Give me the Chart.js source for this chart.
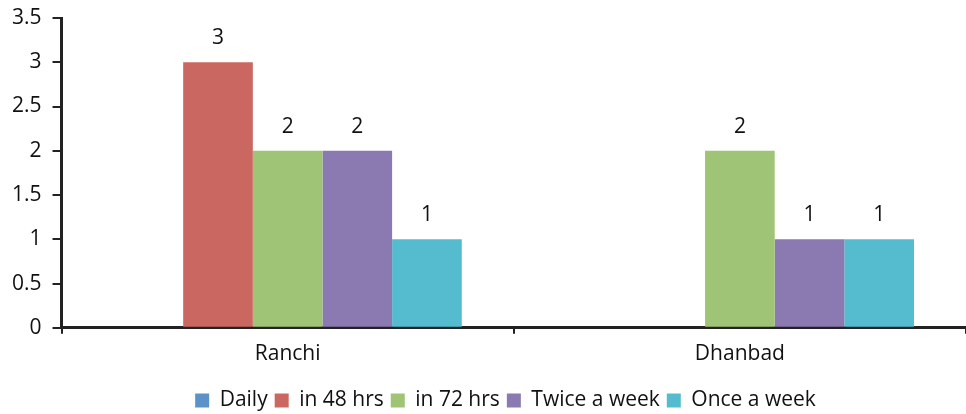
<!DOCTYPE html>
<html>
<head>
<meta charset="utf-8">
<script src="https://cdn.jsdelivr.net/npm/chart.js@4/dist/chart.umd.min.js"></script>
<style>
    html, body { margin: 0; padding: 0; background: #fff; }
    #wrap { width: 966px; height: 414px; }
</style>
</head>
<body>
<div id="wrap"><canvas id="freqChart"></canvas></div>
<script>
const cities = ["Ranchi", "Dhanbad"];
const seriesNames = ["Daily", "in 48 hrs", "in 72 hrs", "Twice a week", "Once a week"];
const daily = [0, 0];
const in48 = [3, 0];
const in72 = [2, 2];
const twiceWeek = [2, 1];
const onceWeek = [1, 1];
const yTicks = [0, 0.5, 1, 1.5, 2, 2.5, 3, 3.5];

const colors = ["#5B93C9", "#CB6761", "#9FC475", "#8B79B1", "#55BCD0"];
const ctx = document.getElementById("freqChart");
const fontFam = "'Open Sans'";

// draw the value above each bar, skip zeros
const valueLabels = {
    id: "valueLabels",
    afterLayout(chart) {
        // legend sits a bit right of centre in the original
        chart.legend.left += 44;
    },
    afterDatasetsDraw(chart) {
        const c = chart.ctx;
        c.save();
        c.font = "21px " + fontFam;
        c.fillStyle = "#111";
        c.textAlign = "center";
        c.textBaseline = "middle";
        chart.data.datasets.forEach((ds, i) => {
            chart.getDatasetMeta(i).data.forEach((bar, j) => {
                if (ds.data[j] === 0) return;
                c.fillText(ds.data[j], bar.x, bar.y - 24);
            });
        });
        c.restore();
    },
};

const allSeries = [daily, in48, in72, twiceWeek, onceWeek];

new Chart(ctx, {
    type: "bar",
    data: {
        labels: cities,
        datasets: allSeries.map((vals, i) => {
            return {
                label: seriesNames[i],
                data: vals,
                backgroundColor: colors[i],
                borderWidth: 0,
                barPercentage: 1,
                categoryPercentage: 0.77,
            };
        }),
    },
    options: {
        responsive: true,
        maintainAspectRatio: false,
        animation: false,
        layout: { padding: { left: 1, right: 0, top: 0, bottom: -7 } },
        plugins: {
            tooltip: { enabled: false },
            legend: {
                position: "bottom",
                labels: {
                    boxWidth: 14,
                    boxHeight: 14,
                    padding: 7,
                    color: "#111",
                    font: { family: fontFam, size: 21 },
                },
            },
        },
        scales: {
            x: {
                afterFit(axis) {
                    axis.height += 8;
                },
                grid: {
                    display: true,
                    drawOnChartArea: false,
                    tickLength: 6,
                    color: "#222",
                    lineWidth: 2,
                },
                border: { color: "#222", width: 3 },
                ticks: {
                    color: "#111",
                    padding: 8,
                    font: { family: fontFam, size: 21 },
                },
            },
            y: {
                min: 0,
                max: 3.5,
                afterBuildTicks(axis) {
                    axis.ticks = yTicks.map((v) => ({ value: v }));
                },
                afterFit(axis) {
                    axis.paddingTop = 18;
                },
                grid: {
                    drawOnChartArea: false,
                    tickLength: 9,
                    color: "#222",
                    lineWidth: 2,
                },
                border: { color: "#222", width: 3 },
                ticks: {
                    color: "#111",
                    padding: 11,
                    font: { family: fontFam, size: 21 },
                    callback: (v) => String(v),
                },
            },
        },
    },
    plugins: [valueLabels],
});
</script>
</body>
</html>
